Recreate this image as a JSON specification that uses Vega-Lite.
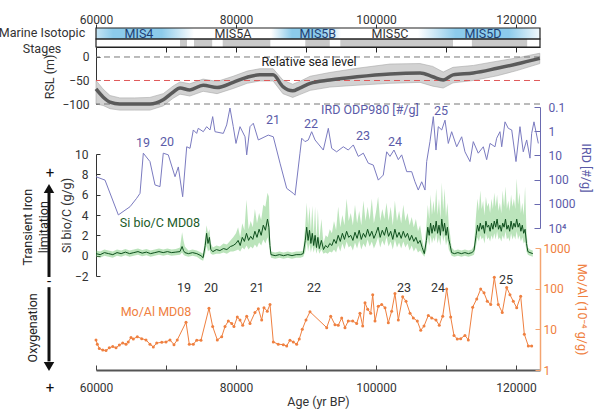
{
"$schema": "https://vega.github.io/schema/vega-lite/v6.json",
"width": 444,
"height": 342,
"autosize": {"type": "none"},
"padding": {"left": 96, "top": 28, "right": 56, "bottom": 39},
"background": "white",
"config": {
 "view": {"stroke": null},
 "font": "Roboto",
 "axis": {"grid": false, "labelFont": "Roboto", "labelFontSize": 12, "labelColor": "#333333", "titleFont": "Roboto", "titleFontSize": 12.5, "titleFontWeight": "normal", "titleColor": "#333333", "domainColor": "#333333", "tickColor": "#333333", "labelFlush": false, "labelOverlap": false},
 "text": {"font": "Roboto", "fontSize": 12}
},
"datasets": {
 "rsl": [
  {"a":60000,"r":-68,"lo":-100,"hi":-50},{"a":61000,"r":-85,"lo":-103,"hi":-68},{"a":62000,"r":-96,"lo":-110,"hi":-82},{"a":63400,"r":-100,"lo":-113,"hi":-87},{"a":65500,"r":-100,"lo":-113,"hi":-87},{"a":67700,"r":-100,"lo":-113,"hi":-86},{"a":69600,"r":-91,"lo":-104,"hi":-78},{"a":71000,"r":-75,"lo":-88,"hi":-62},{"a":72000,"r":-66,"lo":-79,"hi":-53},{"a":73400,"r":-70,"lo":-83,"hi":-57},{"a":75300,"r":-60,"lo":-73,"hi":-47},{"a":77300,"r":-65,"lo":-78,"hi":-52},{"a":79600,"r":-54,"lo":-67,"hi":-41},{"a":81600,"r":-43,"lo":-56,"hi":-30},{"a":83400,"r":-38,"lo":-51,"hi":-25},{"a":85300,"r":-38,"lo":-51,"hi":-25},{"a":86700,"r":-63,"lo":-78,"hi":-49},{"a":88100,"r":-72,"lo":-86,"hi":-58},{"a":89100,"r":-66,"lo":-80,"hi":-52},{"a":90600,"r":-56,"lo":-71,"hi":-41},{"a":93400,"r":-49,"lo":-64,"hi":-33},{"a":97300,"r":-42,"lo":-60,"hi":-24},{"a":102000,"r":-36,"lo":-56,"hi":-15},{"a":106300,"r":-34,"lo":-54,"hi":-14},{"a":108100,"r":-42,"lo":-62,"hi":-20},{"a":109600,"r":-49,"lo":-66,"hi":-32},{"a":111000,"r":-38,"lo":-55,"hi":-22},{"a":113900,"r":-34,"lo":-50,"hi":-18},{"a":117300,"r":-24,"lo":-40,"hi":-9},{"a":120100,"r":-15,"lo":-29,"hi":-2},{"a":123400,"r":-3,"lo":-14,"hi":8}
 ],
 "ird": [
  {"a":60000,"v":76},{"a":61290,"v":105},{"a":63190,"v":2880},{"a":64860,"v":1320},{"a":65810,"v":590},{"a":66290,"v":370},{"a":66760,"v":8.1},{"a":67710,"v":18},{"a":68430,"v":166},{"a":69140,"v":195},{"a":69610,"v":8.1},{"a":70330,"v":9.5},{"a":71290,"v":76},{"a":71760,"v":30},{"a":72380,"v":510},{"a":72960,"v":4.4},{"a":73430,"v":5.1},{"a":73900,"v":0.89},{"a":74380,"v":1.23},{"a":74610,"v":0.76},{"a":75330,"v":1.05},{"a":75810,"v":0.65},{"a":76290,"v":0.89},{"a":76670,"v":0.25},{"a":77000,"v":1.05},{"a":78190,"v":1.23},{"a":78670,"v":0.55},{"a":79140,"v":0.11},{"a":79610,"v":0.65},{"a":80000,"v":3.2},{"a":80570,"v":0.65},{"a":81290,"v":1.7},{"a":81530,"v":9.5},{"a":82000,"v":0.65},{"a":82470,"v":0.47},{"a":83190,"v":2.3},{"a":84610,"v":1.45},{"a":85330,"v":1.7},{"a":86290,"v":21},{"a":87240,"v":230},{"a":88190,"v":370},{"a":88430,"v":440},{"a":89140,"v":8.1},{"a":89390,"v":1.95},{"a":89860,"v":2.7},{"a":90330,"v":2.3},{"a":90810,"v":1.05},{"a":91290,"v":2.3},{"a":92470,"v":6},{"a":93190,"v":0.76},{"a":93670,"v":5.1},{"a":94380,"v":7.1},{"a":95330,"v":4.4},{"a":96040,"v":6},{"a":96760,"v":3.7},{"a":97470,"v":11},{"a":98190,"v":8.1},{"a":98900,"v":21},{"a":99610,"v":25},{"a":100330,"v":105},{"a":101040,"v":65},{"a":101530,"v":7.1},{"a":102000,"v":11},{"a":102570,"v":6},{"a":103190,"v":15},{"a":103670,"v":9.5},{"a":104390,"v":47},{"a":105100,"v":47},{"a":105570,"v":123},{"a":106040,"v":270},{"a":106530,"v":123},{"a":107000,"v":270},{"a":107240,"v":18},{"a":107710,"v":2.7},{"a":108190,"v":0.25},{"a":108570,"v":6},{"a":108900,"v":0.65},{"a":109390,"v":0.89},{"a":109860,"v":0.35},{"a":110330,"v":3.2},{"a":110810,"v":1.05},{"a":111530,"v":4.4},{"a":112240,"v":1.7},{"a":112710,"v":7.1},{"a":113430,"v":18},{"a":113900,"v":2.7},{"a":114610,"v":8.1},{"a":115330,"v":4.4},{"a":115810,"v":15},{"a":116290,"v":3.2},{"a":117000,"v":4.4},{"a":117240,"v":1.95},{"a":117710,"v":1.05},{"a":117960,"v":4.4},{"a":118430,"v":0.41},{"a":118900,"v":0.76},{"a":119390,"v":0.89},{"a":120000,"v":18},{"a":120570,"v":0.65},{"a":121040,"v":7.1},{"a":121530,"v":2.3},{"a":122000,"v":13},{"a":122240,"v":1.23},{"a":122570,"v":0.41},{"a":123190,"v":3.2}
 ],
 "si": [
  {"a":60000,"s":0.2,"h":0.5,"l":-0.1},{"a":60600,"s":0.1,"h":0.4,"l":-0.2},{"a":61200,"s":0.3,"h":0.6,"l":0.0},{"a":61800,"s":0.2,"h":0.5,"l":-0.1},{"a":62400,"s":0.1,"h":0.4,"l":-0.2},{"a":63000,"s":0.3,"h":0.6,"l":0.0},{"a":63600,"s":0.2,"h":0.5,"l":-0.1},{"a":64200,"s":0.35,"h":0.65,"l":0.05},{"a":64800,"s":0.2,"h":0.5,"l":-0.1},{"a":65400,"s":0.3,"h":0.6,"l":0.0},{"a":66000,"s":0.4,"h":0.7,"l":0.1},{"a":66600,"s":0.25,"h":0.55,"l":-0.05},{"a":67200,"s":0.35,"h":0.65,"l":0.05},{"a":67800,"s":0.2,"h":0.5,"l":-0.1},{"a":68400,"s":0.3,"h":0.6,"l":0.0},{"a":69000,"s":0.4,"h":0.7,"l":0.1},{"a":69600,"s":0.3,"h":0.6,"l":0.0},{"a":70200,"s":0.4,"h":0.7,"l":0.1},{"a":70800,"s":0.3,"h":0.6,"l":0.0},{"a":71400,"s":0.35,"h":0.65,"l":0.05},{"a":72000,"s":0.4,"h":0.8,"l":0.1},{"a":72300,"s":0.9,"h":2.3,"l":0.3},{"a":72500,"s":0.5,"h":1.5,"l":0.1},{"a":72700,"s":0.3,"h":0.9,"l":0.0},{"a":73200,"s":0.2,"h":0.5,"l":-0.1},{"a":73800,"s":0.3,"h":0.6,"l":0.0},{"a":74400,"s":0.2,"h":0.5,"l":-0.1},{"a":75000,"s":0.0,"h":0.3,"l":-0.4},{"a":75300,"s":-0.2,"h":0.2,"l":-0.5},{"a":75600,"s":1.0,"h":1.8,"l":0.2},{"a":75800,"s":2.2,"h":3.0,"l":1.0},{"a":76000,"s":1.2,"h":2.2,"l":0.4},{"a":76200,"s":1.8,"h":2.6,"l":0.6},{"a":76400,"s":0.6,"h":1.2,"l":0.2},{"a":76700,"s":0.4,"h":0.8,"l":0.1},{"a":77200,"s":0.6,"h":1.0,"l":0.2},{"a":77700,"s":0.5,"h":0.9,"l":0.2},{"a":78200,"s":0.7,"h":1.2,"l":0.3},{"a":78700,"s":0.6,"h":1.1,"l":0.2},{"a":79200,"s":0.9,"h":1.5,"l":0.4},{"a":79600,"s":1.0,"h":1.8,"l":0.4},
  {"a":80000,"s":1.2,"h":2.2,"l":0.5},{"a":80300,"s":1.5,"h":2.8,"l":0.6},{"a":80600,"s":1.0,"h":1.8,"l":0.4},{"a":80900,"s":1.8,"h":3.2,"l":0.8},{"a":81200,"s":1.4,"h":2.5,"l":0.6},{"a":81500,"s":2.2,"h":5.5,"l":1.0},{"a":81800,"s":1.5,"h":2.6,"l":0.6},{"a":82100,"s":1.9,"h":3.4,"l":0.9},{"a":82400,"s":1.6,"h":2.8,"l":0.7},{"a":82700,"s":2.4,"h":4.6,"l":1.1},{"a":83000,"s":1.8,"h":3.2,"l":0.8},{"a":83300,"s":2.6,"h":4.2,"l":1.3},{"a":83600,"s":2.0,"h":3.5,"l":1.0},{"a":83900,"s":3.0,"h":5.0,"l":1.6},{"a":84200,"s":2.5,"h":4.8,"l":1.2},{"a":84500,"s":3.6,"h":6.2,"l":1.8},{"a":84700,"s":2.8,"h":5.8,"l":1.2},{"a":84850,"s":1.0,"h":2.0,"l":0.3},
  {"a":85000,"s":0.1,"h":0.4,"l":-0.2},{"a":85600,"s":0.0,"h":0.3,"l":-0.3},{"a":86200,"s":0.1,"h":0.4,"l":-0.2},{"a":86800,"s":0.0,"h":0.3,"l":-0.3},{"a":87400,"s":0.1,"h":0.4,"l":-0.2},{"a":88000,"s":0.0,"h":0.3,"l":-0.3},{"a":88600,"s":0.1,"h":0.4,"l":-0.2},{"a":89200,"s":0.1,"h":0.4,"l":-0.2},{"a":89600,"s":0.2,"h":0.5,"l":-0.1},
  {"a":89900,"s":1.5,"h":3.0,"l":0.4},{"a":90100,"s":2.8,"h":5.2,"l":1.4},{"a":90300,"s":1.5,"h":3.0,"l":0.4},{"a":90500,"s":2.5,"h":4.8,"l":1.2},{"a":90700,"s":1.2,"h":2.4,"l":0.3},{"a":90900,"s":2.2,"h":4.9,"l":1.0},{"a":91100,"s":1.0,"h":2.0,"l":0.3},{"a":91300,"s":2.0,"h":4.8,"l":0.9},{"a":91500,"s":0.8,"h":1.6,"l":0.2},{"a":91700,"s":1.8,"h":4.6,"l":0.8},{"a":91900,"s":0.7,"h":1.5,"l":0.2},{"a":92200,"s":1.5,"h":3.6,"l":0.6},{"a":92500,"s":0.6,"h":1.2,"l":0.2},{"a":92800,"s":1.0,"h":2.0,"l":0.3},{"a":93100,"s":0.8,"h":1.8,"l":0.2},{"a":93400,"s":1.2,"h":2.6,"l":0.4},{"a":93700,"s":1.0,"h":2.2,"l":0.3},
  {"a":94000,"s":1.6,"h":3.4,"l":0.6},{"a":94300,"s":1.2,"h":2.5,"l":0.3},{"a":94600,"s":2.0,"h":4.8,"l":1.0},{"a":94900,"s":1.4,"h":2.8,"l":0.4},{"a":95200,"s":2.2,"h":4.0,"l":1.2},{"a":95500,"s":1.6,"h":3.0,"l":0.6},{"a":95800,"s":2.4,"h":5.6,"l":1.4},{"a":96100,"s":1.8,"h":3.4,"l":0.8},{"a":96400,"s":2.0,"h":4.2,"l":1.0},{"a":96700,"s":1.5,"h":3.0,"l":0.5},{"a":97000,"s":2.3,"h":5.0,"l":1.3},{"a":97300,"s":1.7,"h":3.2,"l":0.7},{"a":97600,"s":2.5,"h":4.4,"l":1.5},{"a":97900,"s":1.6,"h":3.0,"l":0.6},{"a":98200,"s":2.2,"h":5.4,"l":1.2},{"a":98500,"s":1.8,"h":3.4,"l":0.8},{"a":98800,"s":2.6,"h":4.8,"l":1.6},{"a":99100,"s":1.9,"h":3.5,"l":0.9},{"a":99400,"s":2.4,"h":5.6,"l":1.4},{"a":99700,"s":1.7,"h":3.2,"l":0.7},{"a":100000,"s":2.2,"h":4.3,"l":1.2},{"a":100300,"s":2.8,"h":5.8,"l":1.8},{"a":100600,"s":1.8,"h":3.4,"l":0.8},{"a":100900,"s":2.5,"h":4.6,"l":1.5},{"a":101200,"s":2.0,"h":3.6,"l":1.0},{"a":101500,"s":2.8,"h":5.2,"l":1.8},{"a":101800,"s":1.9,"h":3.4,"l":0.9},{"a":102100,"s":2.4,"h":4.8,"l":1.4},{"a":102400,"s":1.6,"h":3.0,"l":0.6},{"a":102700,"s":2.6,"h":5.4,"l":1.6},{"a":103000,"s":1.8,"h":3.4,"l":0.8},{"a":103300,"s":2.3,"h":4.4,"l":1.3},{"a":103600,"s":1.7,"h":3.2,"l":0.7},{"a":103900,"s":2.4,"h":5.0,"l":1.4},{"a":104200,"s":1.8,"h":3.4,"l":0.8},{"a":104500,"s":2.2,"h":4.2,"l":1.2},{"a":104800,"s":1.5,"h":3.0,"l":0.5},{"a":105100,"s":2.0,"h":3.8,"l":1.0},{"a":105400,"s":1.4,"h":2.8,"l":0.4},{"a":105700,"s":1.8,"h":3.6,"l":0.8},{"a":106000,"s":1.2,"h":2.4,"l":0.3},{"a":106300,"s":1.5,"h":3.0,"l":0.5},{"a":106600,"s":0.8,"h":1.6,"l":0.2},{"a":106900,"s":0.2,"h":0.6,"l":-0.1},{"a":107200,"s":1.5,"h":3.0,"l":0.5},
  {"a":107400,"s":2.8,"h":5.0,"l":1.8},{"a":107600,"s":2.0,"h":3.6,"l":1.0},{"a":107800,"s":3.2,"h":6.0,"l":2.0},{"a":108000,"s":2.2,"h":4.0,"l":1.2},{"a":108200,"s":3.0,"h":5.4,"l":1.8},{"a":108400,"s":2.4,"h":4.2,"l":1.4},{"a":108600,"s":3.4,"h":6.6,"l":2.2},{"a":108800,"s":2.2,"h":4.0,"l":1.2},{"a":109000,"s":3.0,"h":5.6,"l":1.8},{"a":109200,"s":2.0,"h":3.6,"l":1.0},{"a":109400,"s":3.6,"h":7.2,"l":2.4},{"a":109600,"s":2.4,"h":4.4,"l":1.4},{"a":109800,"s":3.2,"h":6.6,"l":2.0},{"a":110000,"s":2.0,"h":3.8,"l":1.0},{"a":110200,"s":2.8,"h":5.2,"l":1.6},{"a":110400,"s":1.6,"h":3.0,"l":0.6},{"a":110600,"s":1.0,"h":2.0,"l":0.3},{"a":110800,"s":0.3,"h":0.8,"l":0.0},
  {"a":111200,"s":0.2,"h":0.5,"l":-0.1},{"a":111700,"s":0.3,"h":0.6,"l":0.0},{"a":112200,"s":0.2,"h":0.5,"l":-0.1},{"a":112700,"s":0.3,"h":0.6,"l":0.0},{"a":113200,"s":0.2,"h":0.5,"l":-0.1},{"a":113700,"s":0.3,"h":0.6,"l":0.0},{"a":114000,"s":0.5,"h":1.0,"l":0.1},
  {"a":114300,"s":2.0,"h":4.0,"l":1.0},{"a":114500,"s":3.0,"h":5.6,"l":1.8},{"a":114700,"s":2.4,"h":4.4,"l":1.4},{"a":114900,"s":3.2,"h":6.4,"l":2.0},{"a":115100,"s":2.6,"h":4.6,"l":1.6},{"a":115300,"s":3.0,"h":5.4,"l":1.8},{"a":115500,"s":2.2,"h":4.0,"l":1.2},{"a":115700,"s":3.4,"h":5.8,"l":2.2},{"a":115900,"s":2.8,"h":4.8,"l":1.6},{"a":116100,"s":3.0,"h":5.2,"l":1.8},{"a":116300,"s":2.4,"h":4.2,"l":1.4},{"a":116500,"s":3.2,"h":5.6,"l":2.0},{"a":116700,"s":2.6,"h":4.6,"l":1.6},{"a":116900,"s":3.4,"h":6.2,"l":2.2},{"a":117100,"s":2.8,"h":4.8,"l":1.6},{"a":117300,"s":3.6,"h":6.0,"l":2.4},{"a":117500,"s":2.6,"h":4.4,"l":1.6},{"a":117700,"s":3.0,"h":5.2,"l":1.8},{"a":117900,"s":2.4,"h":4.2,"l":1.4},{"a":118100,"s":3.2,"h":6.4,"l":2.0},{"a":118300,"s":2.8,"h":4.8,"l":1.6},{"a":118500,"s":3.6,"h":6.8,"l":2.4},{"a":118700,"s":2.6,"h":4.6,"l":1.6},{"a":118900,"s":3.0,"h":5.4,"l":1.8},{"a":119100,"s":2.4,"h":4.4,"l":1.4},{"a":119300,"s":3.4,"h":6.0,"l":2.2},{"a":119500,"s":2.6,"h":4.8,"l":1.6},{"a":119700,"s":3.2,"h":5.6,"l":2.0},{"a":119900,"s":2.8,"h":4.6,"l":1.6},{"a":120100,"s":3.6,"h":7.6,"l":2.4},{"a":120300,"s":2.8,"h":5.0,"l":1.6},{"a":120500,"s":3.2,"h":6.2,"l":2.0},{"a":120700,"s":2.4,"h":4.2,"l":1.4},{"a":120900,"s":3.0,"h":5.2,"l":1.8},{"a":121100,"s":2.2,"h":4.0,"l":1.2},{"a":121300,"s":2.6,"h":6.8,"l":1.4},{"a":121500,"s":1.2,"h":2.4,"l":0.4},{"a":121700,"s":0.4,"h":0.8,"l":0.1},{"a":122000,"s":0.3,"h":0.6,"l":0.0},{"a":122400,"s":0.2,"h":0.5,"l":-0.1}
 ],
 "mo": [
  {"a":60000,"v":5.5},{"a":60190,"v":4.3},{"a":60470,"v":3.4},{"a":60960,"v":3.1},{"a":61430,"v":3.0},{"a":61900,"v":3.5},{"a":62390,"v":3.8},{"a":62860,"v":3.5},{"a":63330,"v":4.1},{"a":63810,"v":4.6},{"a":64290,"v":4.3},{"a":64610,"v":4.9},{"a":65000,"v":6.3},{"a":65330,"v":5.8},{"a":65900,"v":6.6},{"a":66530,"v":5.9},{"a":67140,"v":5.5},{"a":67710,"v":4.3},{"a":68190,"v":3.7},{"a":68670,"v":4.6},{"a":69390,"v":4.8},{"a":70000,"v":4.9},{"a":70570,"v":5.5},{"a":71140,"v":4.2},{"a":71610,"v":5.5},{"a":72860,"v":15},{"a":73330,"v":4.3},{"a":73900,"v":4.3},{"a":74390,"v":5.4},{"a":75000,"v":5.4},{"a":76140,"v":33},{"a":76670,"v":11.7},{"a":77330,"v":5.5},{"a":77960,"v":6.6},{"a":78430,"v":11.7},{"a":78900,"v":16},{"a":79390,"v":14},{"a":79710,"v":11.7},{"a":80190,"v":20},{"a":80570,"v":17},{"a":80960,"v":12.6},{"a":81530,"v":21},{"a":82000,"v":14},{"a":82710,"v":26},{"a":83190,"v":32},{"a":83670,"v":17},{"a":84000,"v":34},{"a":84470,"v":28},{"a":84860,"v":41},{"a":85330,"v":4.9},{"a":86040,"v":4.3},{"a":86760,"v":4.2},{"a":87240,"v":3.9},{"a":87710,"v":5.4},{"a":88190,"v":4.9},{"a":88670,"v":4.3},{"a":89040,"v":5.8},{"a":89470,"v":10},{"a":90000,"v":17},{"a":90570,"v":27},{"a":92960,"v":11},{"a":93530,"v":21},{"a":94140,"v":13},{"a":94610,"v":12.6},{"a":95100,"v":19},{"a":95570,"v":11},{"a":96040,"v":16},{"a":96670,"v":16},{"a":97240,"v":14},{"a":97710,"v":25},{"a":98100,"v":12},{"a":98430,"v":45},{"a":98810,"v":31},{"a":99240,"v":25},{"a":99530,"v":71},{"a":99860,"v":16},{"a":100330,"v":37},{"a":100810,"v":41},{"a":101290,"v":34},{"a":101760,"v":14.5},{"a":102240,"v":28},{"a":102710,"v":76},{"a":103190,"v":17},{"a":103810,"v":63},{"a":104290,"v":49},{"a":104860,"v":25},{"a":105330,"v":19},{"a":105900,"v":16},{"a":106390,"v":9.5},{"a":106860,"v":12},{"a":107470,"v":22},{"a":107960,"v":19},{"a":108570,"v":17},{"a":109040,"v":12.6},{"a":109530,"v":21},{"a":110100,"v":98},{"a":110670,"v":20},{"a":111140,"v":7.1},{"a":111610,"v":5.8},{"a":112100,"v":5.9},{"a":112710,"v":7.1},{"a":113190,"v":5.5},{"a":113810,"v":35},{"a":114390,"v":56},{"a":114960,"v":98},{"a":115430,"v":79},{"a":115900,"v":49},{"a":116390,"v":41},{"a":116900,"v":190},{"a":117470,"v":41},{"a":118040,"v":26},{"a":118670,"v":107},{"a":119140,"v":71},{"a":119610,"v":49},{"a":120100,"v":34},{"a":120670,"v":65},{"a":121190,"v":7.6},{"a":121760,"v":3.9},{"a":122240,"v":3.9}
 ]
},
"resolve": {"scale": {"x": "independent", "y": "independent"}},
"layer": [
 {
  "layer": [
   {
    "data": {"values": [{"a":57500,"a2":74000},{"a":85000,"a2":95000},{"a":106000,"a2":124000}]},
    "mark": {"type": "rect", "clip": true, "color": {"gradient": "linear", "x1": 0, "y1": 0, "x2": 1, "y2": 0, "stops": [{"offset": 0, "color": "#ffffff"}, {"offset": 0.3, "color": "#8ccbeb"}, {"offset": 0.72, "color": "#8ccbeb"}, {"offset": 1, "color": "#ffffff"}]}},
    "encoding": {
     "x": {"field": "a", "type": "quantitative", "scale": {"domain": [60000, 123430], "nice": false, "zero": false}, "axis": {"orient": "top", "values": [60000, 80000, 100000, 120000], "format": "d", "tickSize": 4, "labelPadding": -2, "domain": false, "title": null}},
     "x2": {"field": "a2"},
     "y": {"datum": 0.42, "type": "quantitative", "scale": {"domain": [0, 1], "range": [19, 0], "nice": false, "zero": false}, "axis": null},
     "y2": {"datum": 1}
    }
   },
   {
    "data": {"values": [{"a":72000,"a2":73000},{"a":74000,"a2":76600},{"a":78100,"a2":84900},{"a":89900,"a2":93400},{"a":94900,"a2":111000},{"a":113700,"a2":121600}]},
    "mark": {"type": "rect", "color": "#c9c9c9"},
    "encoding": {
     "x": {"field": "a", "type": "quantitative"},
     "x2": {"field": "a2"},
     "y": {"datum": 0, "type": "quantitative", "axis": null},
     "y2": {"datum": 0.42}
    }
   },
   {
    "data": {"values": [{"b":0,"b2":0.42},{"b":0.42,"b2":1}]},
    "mark": {"type": "rect", "fillOpacity": 0, "stroke": "#222222", "strokeWidth": 1.2},
    "encoding": {
     "x": {"datum": 60000, "type": "quantitative"},
     "x2": {"datum": 123430},
     "y": {"field": "b", "type": "quantitative", "axis": null},
     "y2": {"field": "b2"}
    }
   },
   {
    "data": {"values": [{"a":66140,"t":"MIS4","g":1},{"a":79570,"t":"MIS5A","g":0},{"a":91700,"t":"MIS5B","g":1},{"a":102000,"t":"MIS5C","g":0},{"a":115290,"t":"MIS5D","g":1}]},
    "mark": {"type": "text", "fontSize": 12.5, "baseline": "middle"},
    "encoding": {
     "x": {"field": "a", "type": "quantitative"},
     "y": {"datum": 0.71, "type": "quantitative", "axis": null},
     "text": {"field": "t"},
     "color": {"field": "g", "type": "nominal", "scale": {"domain": [0, 1], "range": ["#333333", "#1f3f73"]}, "legend": null}
    }
   },
   {
    "data": {"values": [{"a":52290,"t":"Marine Isotopic\nStages"}]},
    "mark": {"type": "text", "fontSize": 12.5, "lineBreak": "\n", "lineHeight": 16, "baseline": "middle", "color": "#333333"},
    "encoding": {
     "x": {"field": "a", "type": "quantitative"},
     "y": {"datum": 0.74, "type": "quantitative", "axis": null},
     "text": {"field": "t"}
    }
   }
  ]
 },
 {
  "layer": [
   {
    "data": {"name": "rsl"},
    "mark": {"type": "area", "color": "#d2d2d2", "stroke": "#a8a8a8", "strokeWidth": 0.6},
    "encoding": {
     "x": {"field": "a", "type": "quantitative", "scale": {"domain": [60000, 123430], "nice": false, "zero": false}, "axis": {"orient": "bottom", "offset": -323, "values": [60000, 70000, 80000, 90000, 100000, 110000, 120000], "labels": false, "tickSize": 5, "title": null, "domainColor": "#222222", "domainWidth": 1.2, "tickColor": "#222222"}},
     "y": {"field": "lo", "type": "quantitative", "scale": {"domain": [-100, 17], "range": [76, 21], "nice": false, "zero": false}, "axis": {"orient": "left", "values": [0, -50, -100], "title": "RSL (m)", "tickSize": -4, "labelPadding": 11, "titlePadding": 5}},
     "y2": {"field": "hi"}
    }
   },
   {
    "data": {"values": [{"lo": 0}, {"lo": -100}]},
    "mark": {"type": "rule", "stroke": "#777777", "strokeDash": [6, 4], "strokeWidth": 1},
    "encoding": {"y": {"field": "lo", "type": "quantitative"}}
   },
   {
    "data": {"values": [{"lo": -50}]},
    "mark": {"type": "rule", "stroke": "#e05a5a", "strokeDash": [6, 4], "strokeWidth": 1},
    "encoding": {"y": {"field": "lo", "type": "quantitative"}}
   },
   {
    "data": {"name": "rsl"},
    "mark": {"type": "line", "color": "#5a5a5a", "strokeWidth": 3.5, "interpolate": "monotone"},
    "encoding": {
     "x": {"field": "a", "type": "quantitative"},
     "y": {"field": "r", "type": "quantitative"}
    }
   },
   {
    "data": {"values": [{"a": 90430, "r": -10.6, "t": "Relative sea level"}]},
    "mark": {"type": "text", "fontSize": 12.5, "color": "#222222", "baseline": "middle"},
    "encoding": {
     "x": {"field": "a", "type": "quantitative"},
     "y": {"field": "r", "type": "quantitative"},
     "text": {"field": "t"}
    }
   }
  ]
 },
 {
  "layer": [
   {
    "data": {"name": "ird"},
    "mark": {"type": "line", "color": "#7b7bc0", "strokeWidth": 1},
    "encoding": {
     "x": {"field": "a", "type": "quantitative", "scale": {"domain": [60000, 123430], "nice": false, "zero": false}, "axis": {"orient": "top", "offset": -342, "values": [60000, 70000, 80000, 90000, 100000, 110000, 120000], "labels": false, "tickSize": 5, "domain": false, "title": null, "tickColor": "#444444"}},
     "y": {"field": "v", "type": "quantitative", "scale": {"type": "log", "domain": [0.1, 10000], "range": [79, 200], "nice": false}, "axis": {"orient": "right", "offset": 0, "values": [0.1, 1, 10, 100, 1000, 10000], "format": "~g", "labelExpr": "datum.value >= 10000 ? '10⁴' : datum.label", "title": "IRD [#/g]", "titleColor": "#5b5ba8", "labelColor": "#5b5ba8", "domainColor": "#6a6ab0", "tickColor": "#6a6ab0", "tickSize": -6, "labelPadding": 14, "titlePadding": 4}}
    }
   },
   {
    "data": {"values": [{"a":66710,"v":3.1,"t":"19"},{"a":70140,"v":2.8,"t":"20"},{"a":85290,"v":0.35,"t":"21"},{"a":90710,"v":0.5,"t":"22"},{"a":98140,"v":1.6,"t":"23"},{"a":102710,"v":2.8,"t":"24"},{"a":109300,"v":0.14,"t":"25"},{"a":99140,"v":0.13,"t":"IRD ODP980 [#/g]"}]},
    "mark": {"type": "text", "fontSize": 12.5, "color": "#5b5ba8", "baseline": "middle"},
    "encoding": {
     "x": {"field": "a", "type": "quantitative"},
     "y": {"field": "v", "type": "quantitative"},
     "text": {"field": "t"}
    }
   }
  ]
 },
 {
  "layer": [
   {
    "data": {"name": "si"},
    "mark": {"type": "area", "color": "#5cbf5c", "opacity": 0.42},
    "encoding": {
     "x": {"field": "a", "type": "quantitative", "scale": {"domain": [60000, 123430], "nice": false, "zero": false}, "axis": {"orient": "bottom", "values": [60000, 80000, 100000, 120000], "format": "d", "ticks": false, "labelPadding": 12, "title": "Age (yr BP)", "titlePadding": 2, "domainColor": "#555555", "domainWidth": 2}},
     "y": {"field": "l", "type": "quantitative", "scale": {"domain": [-2, 10], "range": [248, 126], "nice": false, "zero": false}, "axis": {"orient": "left", "values": [-2, 0, 2, 4, 6, 8, 10], "title": "Si bio/C (g/g)", "tickSize": -4, "labelPadding": 12, "titlePadding": 1}},
     "y2": {"field": "h"}
    }
   },
   {
    "data": {"name": "si"},
    "mark": {"type": "line", "color": "#0d4f1c", "strokeWidth": 1},
    "encoding": {
     "x": {"field": "a", "type": "quantitative"},
     "y": {"field": "s", "type": "quantitative"}
    }
   },
   {
    "data": {"values": [{"a": 69140, "s": 3.2, "t": "Si bio/C MD08"}]},
    "mark": {"type": "text", "fontSize": 12.5, "color": "#1d5c2a", "baseline": "middle"},
    "encoding": {
     "x": {"field": "a", "type": "quantitative"},
     "y": {"field": "s", "type": "quantitative"},
     "text": {"field": "t"}
    }
   }
  ]
 },
 {
  "layer": [
   {
    "data": {"name": "mo"},
    "mark": {"type": "line", "color": "#ef8040", "strokeWidth": 1, "point": {"filled": true, "size": 9, "color": "#ef8040"}},
    "encoding": {
     "x": {"field": "a", "type": "quantitative", "scale": {"domain": [60000, 123430], "nice": false, "zero": false}, "axis": null},
     "y": {"field": "v", "type": "quantitative", "scale": {"type": "log", "domain": [1, 1000], "range": [342, 220], "nice": false}, "axis": {"orient": "right", "offset": 0, "values": [1, 10, 100, 1000], "format": "~g", "title": "Mo/Al (10⁻⁴ g/g)", "titleColor": "#ef8040", "labelColor": "#ef8040", "domainColor": "#f4a470", "tickColor": "#f4a470", "domainWidth": 1.5, "tickSize": -5, "labelPadding": 8, "titlePadding": 5}}
    }
   },
   {
    "data": {"values": [{"a":72570,"v":105,"t":"19"},{"a":76430,"v":105,"t":"20"},{"a":83000,"v":105,"t":"21"},{"a":91140,"v":105,"t":"22"},{"a":104000,"v":105,"t":"23"},{"a":108860,"v":105,"t":"24"},{"a":118570,"v":166,"t":"25"}]},
    "mark": {"type": "text", "fontSize": 12.5, "color": "#333333", "baseline": "middle"},
    "encoding": {
     "x": {"field": "a", "type": "quantitative", "axis": null},
     "y": {"field": "v", "type": "quantitative"},
     "text": {"field": "t"}
    }
   },
   {
    "data": {"values": [{"a": 68570, "v": 27, "t": "Mo/Al MD08"}]},
    "mark": {"type": "text", "fontSize": 12.5, "color": "#ef8040", "baseline": "middle"},
    "encoding": {
     "x": {"field": "a", "type": "quantitative", "axis": null},
     "y": {"field": "v", "type": "quantitative"},
     "text": {"field": "t"}
    }
   }
  ]
 },
 {
  "layer": [
   {
    "data": {"values": [{"a": 53286, "v": 6.2, "v2": -2.1}, {"a": 53286, "v": -3.1, "v2": -10.4}]},
    "mark": {"type": "rule", "color": "#111111", "strokeWidth": 3},
    "encoding": {
     "x": {"field": "a", "type": "quantitative", "scale": {"domain": [60000, 123430], "nice": false, "zero": false}, "axis": null},
     "y": {"field": "v", "type": "quantitative", "scale": {"domain": [-2, 10], "range": [248, 126], "nice": false, "zero": false}, "axis": null},
     "y2": {"field": "v2"}
    }
   },
   {
    "data": {"values": [{"a": 53286, "v": 6.6}]},
    "mark": {"type": "point", "shape": "triangle-up", "filled": true, "color": "#111111", "size": 110, "opacity": 1},
    "encoding": {
     "x": {"field": "a", "type": "quantitative", "axis": null},
     "y": {"field": "v", "type": "quantitative", "axis": null}
    }
   },
   {
    "data": {"values": [{"a": 53286, "v": -10.9}]},
    "mark": {"type": "point", "shape": "triangle-down", "filled": true, "color": "#111111", "size": 110, "opacity": 1},
    "encoding": {
     "x": {"field": "a", "type": "quantitative", "axis": null},
     "y": {"field": "v", "type": "quantitative", "axis": null}
    }
   },
   {
    "data": {"values": [{"a": 53430, "v": 8.1, "t": "+"}, {"a": 53430, "v": -13.0, "t": "+"}, {"a": 53286, "v": -2.5, "t": "-"}]},
    "mark": {"type": "text", "fontSize": 15, "color": "#111111", "baseline": "middle"},
    "encoding": {
     "x": {"field": "a", "type": "quantitative", "axis": null},
     "y": {"field": "v", "type": "quantitative", "axis": null},
     "text": {"field": "t"}
    }
   },
   {
    "data": {"values": [{"a": 50286, "v": 2.8, "t": "Transient Iron"}, {"a": 52570, "v": 2.8, "t": "limitation"}, {"a": 51000, "v": -7.1, "t": "Oxygenation"}]},
    "mark": {"type": "text", "fontSize": 12.5, "color": "#222222", "baseline": "middle", "angle": 270},
    "encoding": {
     "x": {"field": "a", "type": "quantitative", "axis": null},
     "y": {"field": "v", "type": "quantitative", "axis": null},
     "text": {"field": "t"}
    }
   }
  ]
 }
]
}
